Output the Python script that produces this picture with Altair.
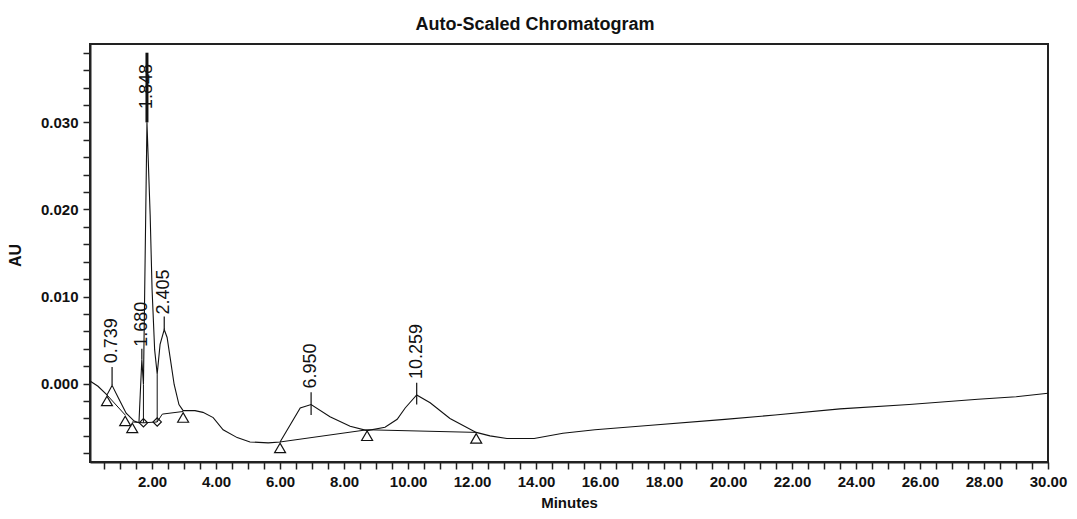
import altair as alt
import pandas as pd

# ---- signal trace (minutes, AU) ----
sig_t = [0.06, 0.31, 0.59, 0.75, 0.94, 1.19, 1.44, 1.59, 1.68, 1.73, 1.84, 1.94, 2.00, 2.08,
         2.16, 2.25, 2.38, 2.47, 2.56, 2.69, 2.84, 2.97, 3.34, 3.59, 3.91, 4.22, 4.66, 5.06,
         5.63, 6.00, 6.63, 6.97, 7.56, 8.19, 8.72, 9.28, 9.66, 9.91, 10.27, 10.69, 11.31,
         12.13, 12.56, 13.09, 13.94, 14.84, 15.84, 17.50, 19.90, 21.47, 23.50, 25.66, 27.81,
         29.00, 30.00]
sig_au = [0.0003, -0.0003, -0.0013, -0.0002, -0.0016, -0.0034, -0.0043, -0.0045, 0.0028,
          -0.0001, 0.0300, 0.0194, 0.0108, 0.0039, 0.0011, 0.0045, 0.0062, 0.0053, 0.0031,
          -0.0001, -0.0024, -0.0031, -0.0031, -0.0033, -0.0039, -0.0053, -0.0062, -0.0067,
          -0.0068, -0.0067, -0.0028, -0.0024, -0.0038, -0.0049, -0.0054, -0.0050, -0.0041,
          -0.0028, -0.0013, -0.0022, -0.0040, -0.0056, -0.0060, -0.0063, -0.0063, -0.0057,
          -0.0053, -0.0048, -0.0041, -0.0036, -0.0029, -0.0024, -0.0018, -0.0015, -0.0011]

# ---- integration baselines ----
base_t = [0.59, 1.16, 1.38, 1.73, 2.16, 2.32, 2.97, 6.00, 8.72, 12.13]
base_au = [-0.0013, -0.0036, -0.0044, -0.0045, -0.0044, -0.0035, -0.0032, -0.0067, -0.0053, -0.0056]
base_grp = ["a", "a", "b", "b", "b", "b", "b", "c", "c", "c"]

# ---- markers ----
tri_t = [0.59, 1.16, 1.38, 2.97, 6.00, 8.72, 12.13]
tri_au = [-0.0013, -0.0036, -0.0044, -0.0032, -0.0067, -0.0053, -0.0056]
dia_t = [1.73, 2.16]
dia_lo = [-0.0045, -0.0044]
dia_hi = [-0.0001, 0.0011]

# ---- peak labels ----
pk_label = ["0.739", "1.680", "1.848", "2.405", "6.950", "10.259"]
pk_t = [0.75, 1.68, 1.84, 2.38, 6.97, 10.27]
pk_apex = [-0.0002, 0.0028, 0.0300, 0.0062, -0.0036, -0.0024]
pk_top = [0.0019, 0.0040, 0.0380, 0.0077, -0.0010, 0.0001]
pk_text = [0.0021, 0.0040, 0.0313, 0.0077, -0.0008, 0.0003]

x_ticks = [0.5 * i for i in range(1, 61)]
y_ticks = [round(-0.008 + 0.002 * i, 3) for i in range(24)]

sig = pd.DataFrame({"t": sig_t, "au": sig_au})
base = pd.DataFrame({"t": base_t, "au": base_au, "g": base_grp})
tri = pd.DataFrame({"t": tri_t, "au": tri_au})
dia = pd.DataFrame({"t": dia_t, "lo": dia_lo, "hi": dia_hi})
pk = pd.DataFrame({"label": pk_label, "t": pk_t, "apex": pk_apex, "top": pk_top, "txt": pk_text})

INK = "#111111"
FONT = "Liberation Sans"

xs = alt.Scale(domain=[0.06, 30], nice=False, zero=False)
ys = alt.Scale(domain=[-0.009, 0.039], nice=False, zero=False)

x_axis = alt.Axis(values=x_ticks, tickCount=200,
                  labelExpr="datum.value % 2 == 0 ? format(datum.value, '.2f') : ''",
                  grid=False, tickSize=7, labelPadding=5, title="Minutes", titleY=40,
                  titleFontSize=15, titleBaseline="middle", labelFlush=False,
                  labelOverlap=False, labelBound=False)
y_axis = alt.Axis(values=y_ticks, tickCount=200,
                  labelExpr="round(datum.value * 1000) % 10 == 0 ? format(datum.value, '.3f') : ''",
                  grid=False, tickSize=7, labelPadding=5, title="AU", titleX=-75, titleY=211,
                  titleAngle=270, titleAlign="center", titleBaseline="middle",
                  labelOverlap=False, labelBound=False, labelFlush=False)

line = alt.Chart(sig).mark_line(color=INK, strokeWidth=1.1).encode(
    x=alt.X("t:Q", scale=xs, axis=x_axis),
    y=alt.Y("au:Q", scale=ys, axis=y_axis),
    order="t:Q",
)
bl = alt.Chart(base).mark_line(color=INK, strokeWidth=1.0).encode(
    x=alt.X("t:Q", scale=xs), y=alt.Y("au:Q", scale=ys), detail="g:N", order="t:Q"
)
tris = alt.Chart(tri).mark_point(shape="triangle-up", filled=False, size=120, color=INK,
                                 strokeWidth=1.2, yOffset=6, opacity=1).encode(
    x=alt.X("t:Q", scale=xs), y=alt.Y("au:Q", scale=ys)
)
drops = alt.Chart(dia).mark_rule(color=INK, strokeWidth=1.0).encode(
    x=alt.X("t:Q", scale=xs), y=alt.Y("lo:Q", scale=ys), y2="hi:Q"
)
dias = alt.Chart(dia).mark_point(shape="diamond", filled=False, size=70, color=INK,
                                 strokeWidth=1.2, opacity=1).encode(
    x=alt.X("t:Q", scale=xs), y=alt.Y("lo:Q", scale=ys)
)
ticks = alt.Chart(pk).mark_rule(color=INK).encode(
    x=alt.X("t:Q", scale=xs), y=alt.Y("apex:Q", scale=ys), y2="top:Q",
    strokeWidth=alt.condition(alt.datum.label == "1.848", alt.value(3), alt.value(1.2)),
)
texts = alt.Chart(pk).mark_text(angle=270, align="left", baseline="middle", dx=2,
                                fontSize=18, font=FONT, color=INK).encode(
    x=alt.X("t:Q", scale=xs), y=alt.Y("txt:Q", scale=ys), text="label:N"
)

chart = alt.layer(line, bl, drops, tris, dias, ticks, texts).properties(
    width=958, height=418,
    padding={"left": 82, "top": 36, "right": 21, "bottom": 49},
    autosize=alt.AutoSizeParams(type="none"),
    title=alt.TitleParams("Auto-Scaled Chromatogram", fontSize=18, fontWeight="bold", font=FONT,
                          anchor="middle", dx=-34, dy=20, offset=12, baseline="bottom", color=INK,
                          frame="group"),
).configure(background="white").configure_view(
    stroke="#222222", strokeWidth=2
).configure_axis(
    domainColor="#222222", domainWidth=2, tickColor="#222222", tickWidth=1.5,
    labelFont=FONT, labelFontSize=15, labelFontWeight="bold", labelColor=INK,
    titleFont=FONT, titleFontSize=16, titleFontWeight="bold", titleColor=INK,
)

chart.save("out.html", embed_options={"renderer": "svg", "actions": False})
